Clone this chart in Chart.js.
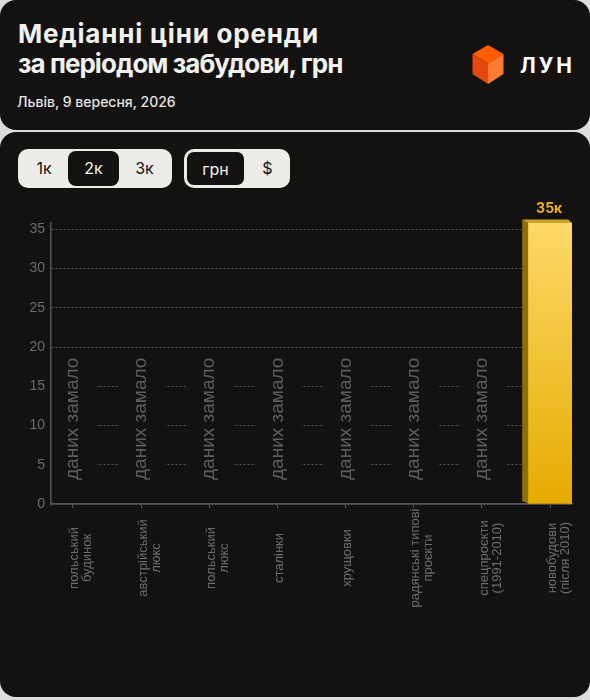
<!DOCTYPE html>
<html>
<head>
<meta charset="utf-8">
<script src="https://cdn.jsdelivr.net/npm/chart.js@4/dist/chart.umd.min.js"></script>
<style>
  body { margin: 0; background: #dcdcdc; width: 590px; height: 700px; position: relative; overflow: hidden; font-family: Inter, "Noto Sans", sans-serif; }
  .card { position: absolute; left: 0; width: 590px; background: #131211; border-radius: 16px; }
  #top { top: 0; height: 130px; }
  #bottom { top: 132px; height: 565px; }
  h1 { position: absolute; left: 18px; top: 19px; margin: 0; color: #f1f1ee; font-size: 26px; line-height: 30px; font-weight: 700; }
  h1 span { display: block; white-space: nowrap; }
  .sub { position: absolute; left: 17px; top: 93px; color: #e4e4e0; font-size: 14px; font-weight: 500; }
  .logo { position: absolute; left: 470px; top: 44px; }
  .logo-text { position: absolute; left: 520px; top: 53px; color: #fff; font-size: 21px; font-weight: 700; letter-spacing: 3px; }
  .group { position: absolute; top: 17px; height: 39px; background: #ecece8; border-radius: 10px; box-sizing: border-box; }
  .btn { position: absolute; top: 2px; height: 35px; line-height: 35px; text-align: center; font-size: 16px; color: #131211; border-radius: 8px; }
  .btn.on { background: #131211; color: #f4f4f0; }
  #chartBox { position: absolute; left: 10px; top: 63px; width: 580px; height: 430px; }
</style>
</head>
<body>
<div class="card" id="top">
  <h1><span style="letter-spacing:0.8px">Медіанні ціни оренди</span><span style="letter-spacing:-0.95px">за періодом забудови, грн</span></h1>
  <div class="sub">Львів, 9 вересня, 2026</div>
  <svg class="logo" width="36" height="42" viewBox="0 0 36 42">
    <polygon points="18,1 33.5,10 18,19.5 2.5,10" fill="#ff5c00"/>
    <polygon points="2.5,10 18,19.5 18,40 2.5,30" fill="#e5470f"/>
    <polygon points="33.5,10 18,19.5 18,40 33.5,30" fill="#ff7b33"/>
  </svg>
  <div class="logo-text">ЛУН</div>
</div>
<div class="card" id="bottom">
  <div class="group" style="left:18px; width:154px;">
    <div class="btn" style="left:2px; width:48px;">1к</div>
    <div class="btn on" style="left:50px; width:51px;">2к</div>
    <div class="btn" style="left:101px; width:51px;">3к</div>
  </div>
  <div class="group" style="left:184px; width:106px;">
    <div class="btn on" style="left:2px; width:59px; box-sizing:border-box; border:1px solid #ecece8;">грн</div>
    <div class="btn" style="left:61px; width:45px;">$</div>
  </div>
  <div id="chartBox"><canvas id="chart" width="580" height="430"></canvas></div>
</div>

<script>
// categories (label lines) and median rent, thousands UAH
const categories = [
  ['польський', 'будинок'],
  ['австрійський', 'люкс'],
  ['польський', 'люкс'],
  ['сталінки'],
  ['хрущовки'],
  ['радянські типові', 'проєкти'],
  ['спецпроєкти', '(1991-2010)'],
  ['новобудови', '(після 2010)'],
];
const values = [null, null, null, null, null, null, null, 35.8];
const yTicks = [0, 5, 10, 15, 20, 25, 30, 35];
const emptyText = 'даних замало';

const cardBg = '#131211';
const gridColor = '#55555b';
const textColor = '#6b6b71';

// bars with a fake 3d side + top, value labels, "no data" notes
const extras = {
  id: 'extras',
  beforeDatasetsDraw(chart) {
    const { ctx, chartArea, scales } = chart;
    const x = scales.x, y = scales.y;
    ctx.save();
    values.forEach((v, i) => {
      if (v !== null) return;
      const cx = x.getPixelForValue(i);
      const top = y.getPixelForValue(19);
      const left = Math.max(chartArea.left + 1, cx - 22);
      ctx.fillStyle = cardBg;
      ctx.fillRect(left, top, cx + 24 - left, chartArea.bottom - 1.5 - top);
      ctx.save();
      ctx.translate(cx, y.getPixelForValue(0) - 24);
      ctx.rotate(-Math.PI / 2);
      ctx.font = '19px "Liberation Sans", Arial, sans-serif';
      ctx.fillStyle = '#5c5c62';
      ctx.textAlign = 'left';
      ctx.textBaseline = 'middle';
      ctx.fillText(emptyText, 0, 0);
      ctx.restore();
    });
    ctx.restore();
  },
  afterDatasetsDraw(chart) {
    const { ctx, scales } = chart;
    const meta = chart.getDatasetMeta(0);
    ctx.save();
    meta.data.forEach((bar, i) => {
      if (values[i] === null) return;
      const { x, y, base, width } = bar.getProps(['x', 'y', 'base', 'width'], true);
      const x0 = x - width / 2, x1 = x + width / 2;
      // side
      ctx.fillStyle = '#8f6e06';
      ctx.beginPath();
      ctx.moveTo(x0 - 6, y - 3.4);
      ctx.lineTo(x0, y);
      ctx.lineTo(x0, base);
      ctx.lineTo(x0 - 6, base - 2.5);
      ctx.closePath();
      ctx.fill();
      // top
      ctx.fillStyle = '#c9a22a';
      ctx.beginPath();
      ctx.moveTo(x0 - 6, y - 3.4);
      ctx.lineTo(x1 - 4, y - 3.4);
      ctx.lineTo(x1, y);
      ctx.lineTo(x0, y);
      ctx.closePath();
      ctx.fill();
      // value
      ctx.font = 'bold 14px Inter, "Noto Sans", sans-serif';
      ctx.fillStyle = '#e9b215';
      ctx.textAlign = 'center';
      ctx.textBaseline = 'alphabetic';
      ctx.fillText(Math.floor(values[i]) + 'к', x - 1, y - 10);
    });
    // category labels, centered under the axis
    const xs = scales.x;
    ctx.font = '13px "Liberation Sans", Arial, sans-serif';
    ctx.fillStyle = textColor;
    ctx.textAlign = 'center';
    ctx.textBaseline = 'middle';
    categories.forEach((lines, i) => {
      const px = xs.getPixelForValue(i);
      lines.forEach((line, j) => {
        ctx.save();
        ctx.translate(px + 2 + j * 13, xs.bottom - 67);
        ctx.rotate(-Math.PI / 2);
        ctx.fillText(line, 0, 0);
        ctx.restore();
      });
    });
    ctx.restore();
  }
};

new Chart(document.getElementById('chart'), {
  type: 'bar',
  data: {
    datasets: [{
      data: values.map((v, i) => ({ x: i, y: v })),
      barThickness: 44,
      borderWidth: 0,
      backgroundColor: (c) => {
        const area = c.chart.chartArea;
        if (!area) return '#f0c030';
        const g = c.chart.ctx.createLinearGradient(0, area.top, 0, area.bottom);
        g.addColorStop(0, '#fed968');
        g.addColorStop(1, '#e5ab00');
        return g;
      },
    }],
  },
  options: {
    responsive: false,
    animation: false,
    devicePixelRatio: 1,
    layout: { padding: { top: 28, right: 18, bottom: 0, left: 0 } },
    plugins: { legend: { display: false }, tooltip: { enabled: false } },
    scales: {
      x: {
        type: 'linear',
        offset: false,
        min: -0.32,
        max: 7.32,
        afterBuildTicks: (s) => { s.ticks = categories.map((c, i) => ({ value: i })); },
        afterFit: (s) => { s.height = 121; },
        ticks: { display: false },
        grid: { offset: false, drawOnChartArea: false, drawTicks: true, tickLength: 4, color: gridColor },
        border: { color: gridColor, width: 1.5 },
      },
      y: {
        min: 0,
        max: 35.8,
        afterBuildTicks: (s) => { s.ticks = yTicks.map((v) => ({ value: v })); },
        afterFit: (s) => { s.width = 41; },
        ticks: {
          padding: 6,
          color: textColor,
          font: { family: '"Liberation Sans", Arial, sans-serif', size: 14 },
        },
        grid: { drawTicks: false, color: gridColor, lineWidth: 1 },
        border: { color: gridColor, width: 1.5, dash: [2, 2] },
      },
    },
  },
  plugins: [extras],
});
</script>
</body>
</html>
